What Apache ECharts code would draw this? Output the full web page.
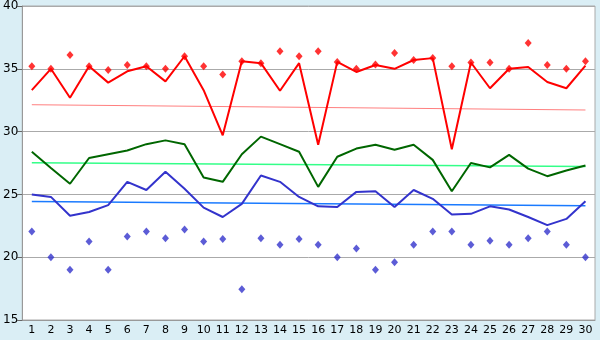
<!DOCTYPE html>
<html lang="en">
<head>
    <meta charset="UTF-8">
    <title>chart</title>
    <script src="https://cdn.jsdelivr.net/npm/echarts@6/dist/echarts.min.js"></script>
    <style>
        body{
            margin: 0;
            background: #daeef5;
        }
        #main{
            width: 600px;
            height: 340px;
        }
    </style>
</head>
<body>
    <div id="main"></div>
<script>
    // data
    var days = ['1','2','3','4','5','6','7','8','9','10','11','12','13','14','15',
                '16','17','18','19','20','21','22','23','24','25','26','27','28','29','30'];
    var redLine = [33.3,35.0,32.7,35.2,33.9,34.8,35.2,34.0,36.0,33.3,29.7,35.6,35.45,33.25,35.45,
                   28.95,35.55,34.75,35.3,35.0,35.7,35.85,28.6,35.5,33.45,35.0,35.15,33.95,33.45,35.25];
    var redDots = [35.2,35.0,36.1,35.2,34.9,35.3,35.2,35.0,36.0,35.2,34.55,35.6,35.45,36.4,36.0,
                   36.4,35.55,35.0,35.35,36.25,35.7,35.85,35.2,35.5,35.5,35.0,37.05,35.3,35.0,35.6];
    var greenLine = [28.4,27.1,25.85,27.9,28.2,28.5,29.0,29.3,29.0,26.35,26.0,28.2,29.6,29.0,28.4,
                     25.6,28.0,28.65,28.95,28.55,28.95,27.75,25.25,27.5,27.15,28.15,27.05,26.45,26.9,27.3];
    var blueLine = [25.0,24.8,23.3,23.6,24.15,26.0,25.35,26.8,25.45,23.95,23.2,24.25,26.5,26.0,24.8,
                    24.05,24.0,25.2,25.25,24.0,25.35,24.65,23.4,23.45,24.05,23.8,23.2,22.55,23.05,24.45];
    var blueDots = [22.05,20.0,19.0,21.25,19.0,21.65,22.05,21.5,22.2,21.25,21.45,17.45,21.5,21.0,21.45,
                    21.0,20.0,20.7,19.0,19.6,21.0,22.05,22.05,21.0,21.3,21.0,21.5,22.05,21.0,20.0];
    // trend lines: value at first and last day
    var redTrend = [32.14, 31.72];
    var greenTrend = [27.52, 27.22];
    var blueTrend = [24.44, 24.1];
    var yTicks = [15, 40, 5];

    function trend(v){
        return [[days[0], v[0]], [days[days.length-1], v[1]]];
    }

    var myChart = echarts.init(document.getElementById('main'));
    myChart.setOption({
        animation: false,
        grid: {
            left: 20, right: 5, top: 5, bottom: 20,
            show: true,
            backgroundColor: '#fff',
            borderColor: '#aaa',
            borderWidth: 1
        },
        xAxis: {
            type: 'category',
            data: days,
            boundaryGap: true,
            axisLine: {lineStyle: {color: '#999', width: 1}},
            axisTick: {alignWithLabel: true, length: 5, lineStyle: {color: '#666'}},
            axisLabel: {color: '#000', fontFamily: 'DejaVu Sans', fontSize: 11, margin: 5, interval: 0},
            splitLine: {show: false}
        },
        yAxis: {
            type: 'value',
            min: yTicks[0], max: yTicks[1], interval: yTicks[2],
            axisLine: {show: true, lineStyle: {color: '#999', width: 1}},
            axisTick: {show: true, length: 5, lineStyle: {color: '#666'}},
            axisLabel: {color: '#000', fontFamily: 'DejaVu Sans', fontSize: 12, margin: 4},
            splitLine: {lineStyle: {color: '#aaa', width: 1}}
        },
        series: [
            {type: 'line', data: trend(redTrend), symbol: 'none', lineStyle: {color: '#ff7f7f', width: 1}},
            {type: 'line', data: trend(greenTrend), symbol: 'none', lineStyle: {color: '#33ff88', width: 1.5}},
            {type: 'line', data: trend(blueTrend), symbol: 'none', lineStyle: {color: '#1a7aff', width: 1.5}},
            {type: 'line', data: greenLine, symbol: 'none', lineStyle: {color: '#006600', width: 2}},
            {type: 'line', data: blueLine, symbol: 'none', lineStyle: {color: '#3333cc', width: 2}},
            {type: 'line', data: redLine, symbol: 'none', lineStyle: {color: '#ff0000', width: 2}},
            {type: 'scatter', data: redDots, symbol: 'diamond', symbolSize: [7, 8], itemStyle: {color: '#ff0000'}},
            {type: 'scatter', data: blueDots, symbol: 'diamond', symbolSize: [7, 8], itemStyle: {color: '#3333cc'}}
        ]
    });
</script>
</body>
</html>
